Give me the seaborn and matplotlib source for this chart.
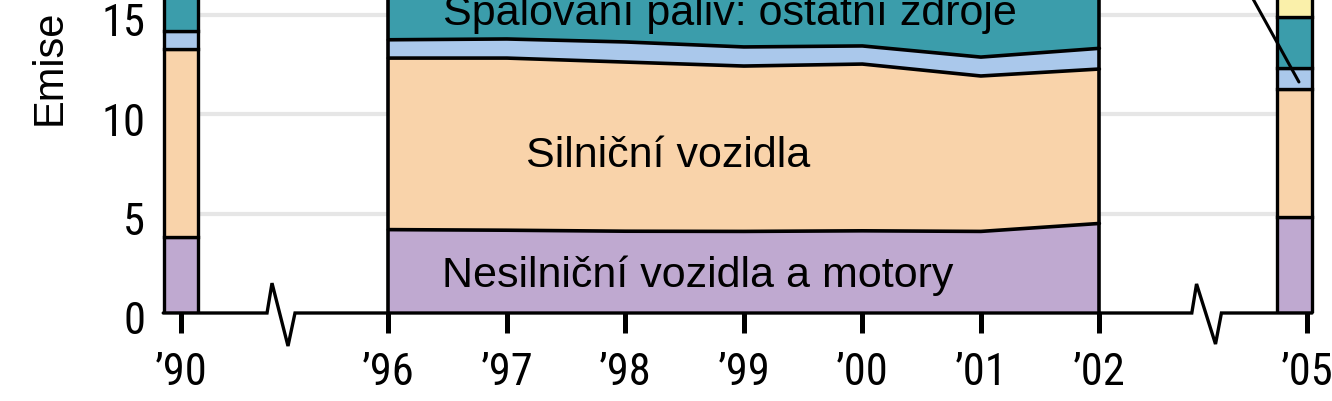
import matplotlib
matplotlib.use("Agg")
import matplotlib.pyplot as plt
import matplotlib.transforms as mtransforms
import seaborn as sns
import numpy as np
import pandas as pd
from matplotlib import font_manager
from matplotlib.font_manager import FontProperties

sns.set_style("white")
plt.rcParams["font.family"] = ["Liberation Sans", "DejaVu Sans"]
for key in ["text.color", "axes.labelcolor", "xtick.color", "ytick.color"]:
    plt.rcParams[key] = "black"

# pick a narrow / condensed face for tick labels if one is installed
def _pick_narrow():
    best = None
    for f in font_manager.fontManager.ttflist:
        nm = f.name
        st = str(f.stretch)
        cond = ("Narrow" in nm or "Condensed" in nm or st in ("condensed", "semi-condensed", "extra-condensed"))
        if not cond:
            continue
        if f.style != "normal" or f.weight not in (400, "normal", "regular", "book"):
            continue
        score = 0
        if "Liberation" in nm or "Arial" in nm:
            score = 3
        elif "Roboto" in nm or "Open Sans" in nm:
            score = 2
        elif "DejaVu" in nm:
            score = 1
        if best is None or score > best[0]:
            best = (score, f.fname)
    return best[1] if best else None

_nf = _pick_narrow()
TICK_SIZE = 32 if _nf else 27

def tick_fp():
    if _nf:
        return FontProperties(fname=_nf, size=TICK_SIZE)
    return FontProperties(family="Liberation Sans", size=TICK_SIZE)

# ---------------- data ----------------
tick_labels = ["\u201990", "\u201996", "\u201997", "\u201998", "\u201999", "\u201900", "\u201901", "\u201902", "\u201905"]
tick_pos = [0, 1.75, 2.75, 3.75, 4.75, 5.75, 6.75, 7.75, 9.5]   # broken-axis positions

# area part 1996-2002 (layer thicknesses, bottom to top)
area_years = ["\u201996", "\u201997", "\u201998", "\u201999", "\u201900", "\u201901", "\u201902"]
nesilnicni = [4.19, 4.16, 4.11, 4.10, 4.13, 4.10, 4.50]
silnicni = [8.62, 8.65, 8.50, 8.31, 8.38, 7.81, 7.76]
svetle_modra = [0.92, 0.96, 1.01, 0.96, 0.91, 0.95, 1.04]
spalovani = [4.2, 4.1, 4.1, 4.0, 4.0, 4.1, 3.9]

# single bars 1990 and 2005
bar90 = [3.80, 9.45, 0.92, 4.0]
bar05 = [4.81, 6.45, 1.04, 2.57, 1.5]

colors = ["#BFA9D0", "#F9D3AA", "#AAC8EB", "#3B9DAB", "#FAF0AA"]

# ---------------- layout ----------------
W, H = 1332, 402
PX = 118.5      # px per x unit
X0 = 181        # px of position 0
ZERO = 314      # px (from top) of y=0
PY = 19.9       # px per y unit
xl = (-0.2, 9.65)

fig = plt.figure(figsize=(W / 100, H / 100), dpi=100)
ax = fig.add_axes([(X0 + xl[0] * PX) / W, (H - ZERO) / H, (xl[1] - xl[0]) * PX / W, ZERO / H])
ax.set_xlim(*xl)
ax.set_ylim(0, ZERO / PY)
for s in ax.spines.values():
    s.set_visible(False)

pos_of = dict(zip(tick_labels, tick_pos))
xa = np.array([pos_of[y] for y in area_years])

# grid lines
ax.hlines([5, 10, 15], pos_of["\u201990"], pos_of["\u201905"], color="#e6e6e6", lw=3, zorder=1)

# stacked area
LW = 2.6
layers = [nesilnicni, silnicni, svetle_modra, spalovani]
lower = np.zeros(len(xa))
for i, lay in enumerate(layers):
    upper = lower + np.array(lay)
    ax.fill_between(xa, lower, upper, color=colors[i], lw=0, zorder=2)
    if i < len(layers) - 1:
        df = pd.DataFrame({"x": xa, "y": upper})
        sns.lineplot(data=df, x="x", y="y", color="black", lw=LW, ax=ax, zorder=3, legend=False)
    lower = upper
ax.vlines([xa[0], xa[-1]], 0, lower.max(), color="black", lw=LW, zorder=3)

# bars
BW = 0.295
def stacked_bar(x, vals):
    b = 0
    for i, v in enumerate(vals):
        ax.bar(x, v, bottom=b, width=BW, color=colors[i], edgecolor="black", lw=2.4, zorder=3)
        b += v

stacked_bar(pos_of["\u201990"], bar90)
stacked_bar(pos_of["\u201905"] - 0.105, bar05)

# baseline with break marks
k = dict(color="black", lw=2.4, clip_on=False, zorder=4, solid_joinstyle="miter")
ax.plot([-0.15, 0.726, 0.768, 0.903, 0.962, 8.53, 8.57, 8.73, 8.78, 9.545],
        [0, 0, 1.5, -1.66, 0, 0, 1.46, -1.56, 0, 0], **k)

# leader line near 2005 bar
ax.plot([8.86, 9.434], [17.79, 11.61], color="black", lw=2.2, clip_on=False, zorder=5)

# ticks
ax.set_xticks(tick_pos, tick_labels)
ax.set_yticks([0, 5, 10, 15], ["0", "5", "10", "15"])
ax.tick_params(axis="x", bottom=True, length=14.4, width=3.6, direction="out", pad=13,
               color="black")
ax.tick_params(axis="y", left=False, length=0, pad=8.6)
shift = mtransforms.ScaledTranslation(0, -4 / 100, fig.dpi_scale_trans)
for lbl in ax.get_xticklabels() + ax.get_yticklabels():
    lbl.set_fontproperties(tick_fp())
    lbl.set_color("black")
for lbl in ax.get_yticklabels():
    lbl.set_transform(lbl.get_transform() + shift)
ax.set_xlabel("")
ax.set_ylabel("")

# in-chart labels
ax.text(4.63, 14.52, "Spalování paliv: ostatní zdroje", fontsize=31, ha="center", va="baseline", zorder=6)
ax.text(4.11, 7.39, "Silniční vozidla", fontsize=31, ha="center", va="baseline", zorder=6)
ax.text(4.36, 1.34, "Nesilniční vozidla a motory", fontsize=31, ha="center", va="baseline", zorder=6)

fig.text(61 / W, (H - 125) / H, "Emise", rotation=90, rotation_mode="anchor",
         ha="left", va="baseline", fontsize=30)

fig.savefig("out.png", dpi=100)
